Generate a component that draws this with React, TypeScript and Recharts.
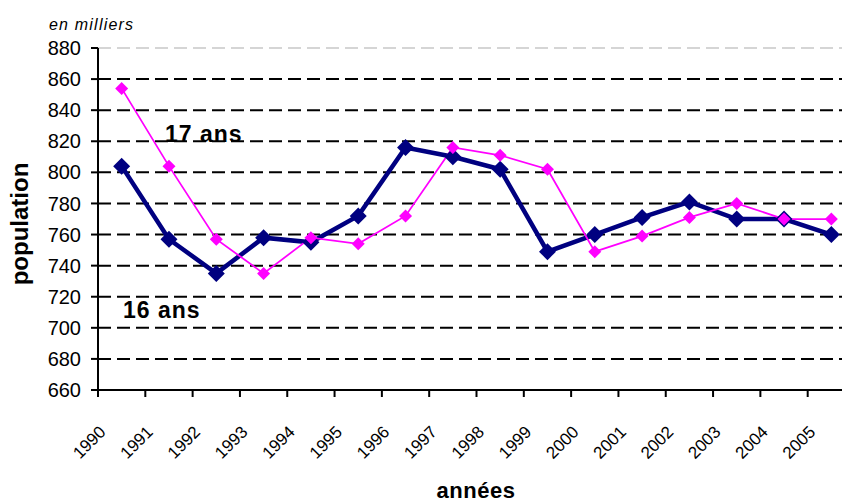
import { LineChart, Line, XAxis, YAxis, CartesianGrid } from 'recharts'

const years = [
  '1990', '1991', '1992', '1993', '1994', '1995', '1996', '1997',
  '1998', '1999', '2000', '2001', '2002', '2003', '2004', '2005',
]
// population en milliers
const ans16 = [804, 757, 735, 758, 755, 772, 816, 810, 802, 749, 760, 771, 781, 770, 770, 760]
const ans17 = [854, 804, 757, 735, 758, 754, 772, 816, 811, 802, 749, 759, 771, 780, 770, 770]
const yTicks = [660, 680, 700, 720, 740, 760, 780, 800, 820, 840, 860, 880]

const data = years.map((year, i) => ({ year, ans16: ans16[i], ans17: ans17[i] }))

const FONT = '"Liberation Sans", Arial, Helvetica, sans-serif'
const W = 860
const H = 503
const TOP = 48
const RIGHT = 5
const Y_AXIS_W = 98
const X_AXIS_H = 113
const BAND = (W - Y_AXIS_W - RIGHT) / years.length

function Diamond({ cx, cy, r, fill }: { cx?: number; cy?: number; r: number; fill: string }) {
  if (cx == null || cy == null) return null
  return (
    <polygon
      points={`${cx},${cy - r} ${cx + r},${cy} ${cx},${cy + r} ${cx - r},${cy}`}
      fill={fill}
    />
  )
}

// tick marks sit on category boundaries, labels are slanted
function YearTick(props: any) {
  const { x, y, payload } = props
  const tx = x - 15
  const ty = y + 43
  return (
    <g>
      <line x1={x - BAND / 2} y1={y} x2={x - BAND / 2} y2={y + 7} stroke="#000" strokeWidth={2} />
      <text
        x={tx}
        y={ty}
        transform={`rotate(-45 ${tx} ${ty})`}
        textAnchor="end"
        fontSize={17}
        fontFamily={FONT}
        fill="#000"
      >
        {payload.value}
      </text>
    </g>
  )
}

function GridLine(p: any) {
  const top = Math.abs(p.y1 - TOP) < 1
  return (
    <line
      key={p.key}
      x1={p.x1}
      y1={p.y1}
      x2={p.x2}
      y2={p.y2}
      stroke={top ? '#c8c8c8' : '#000'}
      strokeWidth={top ? 1.5 : 2}
      strokeDasharray="13 6"
    />
  )
}

export default function App() {
  return (
    <div
      style={{
        position: 'absolute',
        left: 0,
        top: 0,
        width: 842,
        height: 503,
        overflow: 'hidden',
        background: '#fff',
      }}
    >
      <LineChart width={W} height={H} data={data} margin={{ top: TOP, right: RIGHT, bottom: 0, left: 0 }}>
        <CartesianGrid vertical={false} horizontal={GridLine} />
        <XAxis
          dataKey="year"
          scale="band"
          interval={0}
          height={X_AXIS_H}
          tickSize={0}
          tickMargin={0}
          tickLine={false}
          axisLine={{ stroke: '#000', strokeWidth: 2 }}
          tick={<YearTick />}
        />
        <YAxis
          type="number"
          domain={[660, 880]}
          ticks={yTicks}
          interval={0}
          width={Y_AXIS_W}
          tickSize={7}
          tickMargin={10}
          axisLine={{ stroke: '#000', strokeWidth: 2 }}
          tickLine={{ stroke: '#000', strokeWidth: 2 }}
          tick={{ fontSize: 20, fill: '#000', fontFamily: FONT }}
        />
        <Line
          type="linear"
          dataKey="ans16"
          stroke="#000080"
          strokeWidth={4.5}
          dot={(p: any) => <Diamond key={`d16-${p.index}`} cx={p.cx} cy={p.cy} r={8.5} fill="#000080" />}
          activeDot={false}
          isAnimationActive={false}
        />
        <Line
          type="linear"
          dataKey="ans17"
          stroke="#ff00ff"
          strokeWidth={1.75}
          dot={(p: any) => <Diamond key={`d17-${p.index}`} cx={p.cx} cy={p.cy} r={6.5} fill="#ff00ff" />}
          activeDot={false}
          isAnimationActive={false}
        />
      </LineChart>
      <svg
        width={842}
        height={503}
        style={{ position: 'absolute', left: 0, top: 0, pointerEvents: 'none' }}
        fontFamily={FONT}
        fill="#000"
      >
        <text x={49} y={30} fontSize={16} fontStyle="italic" letterSpacing={1.2}>
          en milliers
        </text>
        <text
          x={28}
          y={224}
          fontSize={24}
          fontWeight="bold"
          textAnchor="middle"
          transform="rotate(-90 28 224)"
        >
          population
        </text>
        <text x={476} y={498} fontSize={22} fontWeight="bold" textAnchor="middle" letterSpacing={0.5}>
          années
        </text>
        <text x={165} y={142} fontSize={23} fontWeight="bold" letterSpacing={1}>
          17 ans
        </text>
        <text x={123} y={318} fontSize={23} fontWeight="bold" letterSpacing={1}>
          16 ans
        </text>
      </svg>
    </div>
  )
}
